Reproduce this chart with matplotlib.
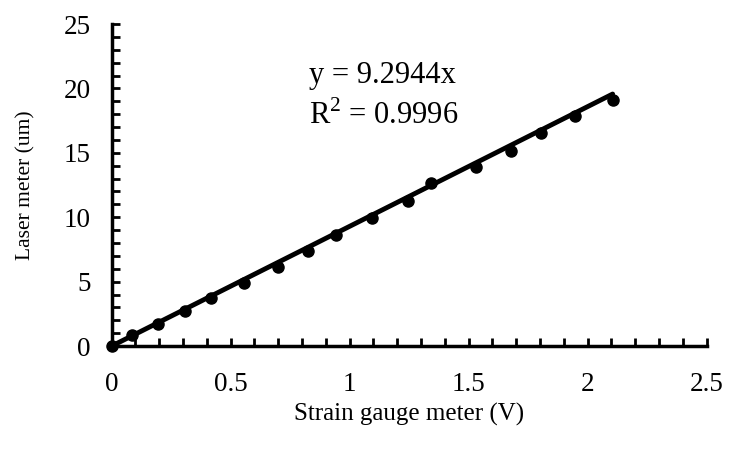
import matplotlib
matplotlib.use("Agg")
import matplotlib.pyplot as plt
import numpy as np
from matplotlib.ticker import MultipleLocator

# strain gauge reading (V) vs laser displacement (um)
strain_v = [0.0, 0.085, 0.195, 0.307, 0.419, 0.555, 0.699, 0.825, 0.944,
            1.095, 1.245, 1.343, 1.532, 1.676, 1.805, 1.945, 2.105]
laser_um = [0.0, 0.85, 1.71, 2.74, 3.75, 4.91, 6.16, 7.40, 8.62,
            9.91, 11.26, 12.68, 13.92, 15.16, 16.56, 17.86, 19.10]
slope = 9.2944
r_squared = 0.9996

plt.rcParams["font.family"] = ["Liberation Serif", "DejaVu Serif"]
plt.rcParams["mathtext.fontset"] = "custom"
plt.rcParams["mathtext.rm"] = "Liberation Serif"

fig = plt.figure(figsize=(7.3, 4.62), dpi=100)
ax = fig.add_axes([0.153, 0.251, 0.815, 0.697])

# linear trendline through the origin, over the measured range
fit_x = np.array([0.0, max(strain_v)])
ax.plot(fit_x, slope * fit_x, color="black", linewidth=3.5,
        solid_capstyle="round", clip_on=False, zorder=2)
ax.plot(strain_v, laser_um, "o", color="black", markersize=8,
        clip_on=False, zorder=3)

ax.set_xlim(0, 2.5)
ax.set_ylim(0, 25)
ax.xaxis.set_minor_locator(MultipleLocator(0.1))
ax.yaxis.set_major_locator(MultipleLocator(5))
ax.yaxis.set_minor_locator(MultipleLocator(1))
ax.set_xticks(np.arange(0, 2.51, 0.5))
ax.set_xticklabels(["0", "0.5", "1", "1.5", "2", "2.5"])

for side in ("top", "right"):
    ax.spines[side].set_visible(False)
for side in ("left", "bottom"):
    ax.spines[side].set_linewidth(2.5)

ax.tick_params(which="both", direction="in", length=6, width=2, labelsize=19.5)
ax.tick_params(axis="x", which="major", pad=19)
ax.tick_params(axis="y", which="major", pad=15)

ax.set_xlabel("Strain gauge meter (V)", fontsize=18, labelpad=4)
ax.set_ylabel("Laser meter (um)", fontsize=15.5, labelpad=20)

ax.text(0.83, 21.0, f"y = {slope}x", fontsize=22, va="center")
ax.text(0.83, 17.9, f"R$^2$ = {r_squared}", fontsize=22, va="center")

fig.savefig("out.png", dpi=100)
